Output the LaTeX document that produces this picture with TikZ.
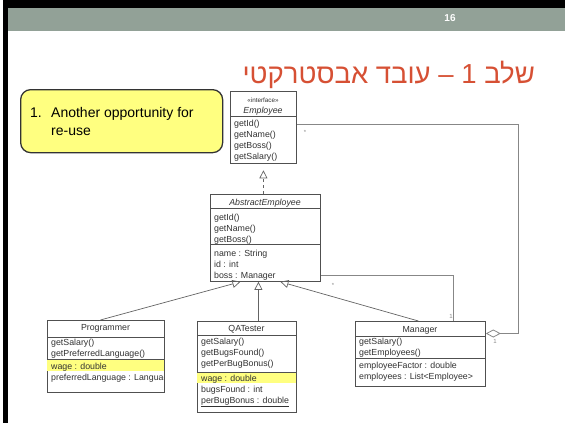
\documentclass[tikz,border=0pt]{standalone}
\usepackage{fontspec}
\setmainfont{Liberation Sans}
\newfontfamily\hebfont[Script=Hebrew]{Liberation Sans}
\TeXXeTstate=1
\usetikzlibrary{arrows.meta,calc}

\definecolor{bargray}{RGB}{146,161,151}
\definecolor{titlered}{RGB}{214,80,52}
\definecolor{notefill}{RGB}{255,255,128}
\definecolor{hilite}{RGB}{255,255,128}
\definecolor{boxline}{RGB}{80,80,80}
\definecolor{umlink}{RGB}{50,50,50}
\definecolor{linkgray}{RGB}{100,100,100}
\definecolor{assocgray}{RGB}{135,135,135}

\newcommand{\umlfont}{\fontsize{8.8}{11}\selectfont}

\begin{document}
\begin{tikzpicture}[x=1pt, y=-1pt,
  umlbox/.style={draw=boxline, fill=white, anchor=north west, inner sep=0pt, line width=0.8pt},
  compline/.style={draw=boxline, line width=0.8pt},
  umltext/.style={anchor=base west, align=left, inner sep=0pt, text=umlink, font=\umlfont},
  umltitle/.style={anchor=base, inner sep=0pt, text=umlink, font=\umlfont},
  inherit/.style={draw=linkgray, line width=0.7pt, -{Triangle[open, length=8pt, width=8pt]}},
  realize/.style={inherit, dashed, shorten >=7pt},
  assoc/.style={draw=assocgray, line width=0.8pt},
  aggr/.style={assoc, -{Diamond[open, length=15pt, width=8pt]}},
  mult/.style={font=\fontsize{6}{6}\selectfont, text=assocgray, inner sep=0pt}
]
\useasboundingbox (0,0) rectangle (565,423);

% slide frame
\fill[black] (3,0) rectangle (565,8);
\fill[black] (3,0) rectangle (8,423);
\fill[bargray] (8,8) rectangle (565,31);
\node[font=\bfseries\fontsize{10}{10}\selectfont, text=white] (pagenum) at (450,18.5) {16};

% title
\node[anchor=base east, inner sep=0pt, text=titlered, font=\fontsize{27.5}{32}\selectfont]
  (title) at (535,83) {\hebfont\beginR שלב 1 – עובד אבסטרקטי\endR};

% note (base anchor = last line)
\node[draw=black!80, line width=1.3pt, fill=notefill, rounded corners=10pt, anchor=north west,
  minimum width=202pt, minimum height=63pt, inner sep=0pt] (note) at (20,89) {};
\node[anchor=base west, inner sep=0pt, font=\fontsize{14}{18}\selectfont] (note-num) at (30,117) {1.};
\node[anchor=base west, align=left, inner sep=0pt, font=\fontsize{14}{18}\selectfont]
  (note-text) at (51,135) {Another opportunity for\\re-use};

% Employee interface
\begin{scope}[shift={(230,91)}]
  \node[umlbox, minimum width=66pt, minimum height=71.5pt] (emp) at (0,0) {};
  \draw[compline] (0,25) -- (66,25);
  \node[umltitle, font=\fontsize{6.3}{7}\selectfont] (emp-stereo) at (33,11.5) {«interface»};
  \node[umltitle, font=\umlfont\itshape] (emp-name) at (33,22) {Employee};
  \node[umltext] (emp-ops) at (4,68) {getId()\\getName()\\getBoss()\\getSalary()};
\end{scope}

% AbstractEmployee
\begin{scope}[shift={(210,194)}]
  \node[umlbox, minimum width=110pt, minimum height=87pt] (abs) at (0,0) {};
  \draw[compline] (0,14.5) -- (110,14.5);
  \draw[compline] (0,50.5) -- (110,50.5);
  \node[umltitle, font=\umlfont\itshape] (abs-name) at (55,11.5) {AbstractEmployee};
  \node[umltext] (abs-ops) at (4,48) {getId()\\getName()\\getBoss()};
  \node[umltext] (abs-attr) at (4,84) {name : String\\id : int\\boss : Manager};
\end{scope}

% Programmer
\begin{scope}[shift={(47,320)}]
  \node[umlbox, minimum width=117pt, minimum height=72pt] (prog) at (0,0) {};
  \fill[hilite] (0.4,39.3) rectangle (116.6,51);
  \draw[compline] (0,17) -- (117,17);
  \draw[compline] (0,39.3) -- (117,39.3);
  \node[umltitle] (prog-name) at (58.5,10.5) {Programmer};
  \node[umltext] (prog-ops) at (4,36.5) {getSalary()\\getPreferredLanguage()};
  \begin{scope}
    \clip (0,0) rectangle (116.5,72);
    \node[umltext] (prog-attr) at (4,60) {wage : double\\preferredLanguage : Language};
  \end{scope}
\end{scope}

% QATester
\begin{scope}[shift={(197,321)}]
  \node[umlbox, minimum width=99pt, minimum height=91pt] (qa) at (0,0) {};
  \fill[hilite] (0.4,51.7) rectangle (98.6,62);
  \draw[compline] (0,14) -- (99,14);
  \draw[compline] (0,51.7) -- (99,51.7);
  \node[umltitle] (qa-name) at (49.5,10) {QATester};
  \node[umltext] (qa-ops) at (4,45.5) {getSalary()\\getBugsFound()\\getPerBugBonus()};
  \node[umltext] (qa-attr) at (4,82) {wage : double\\bugsFound : int\\\underline{perBugBonus : double}};
\end{scope}

% Manager
\begin{scope}[shift={(355,321)}]
  \node[umlbox, minimum width=130pt, minimum height=65pt] (mgr) at (0,0) {};
  \draw[compline] (0,15.5) -- (130,15.5);
  \draw[compline] (0,37.5) -- (130,37.5);
  \node[umltitle] (mgr-name) at (65,11) {Manager};
  \node[umltext] (mgr-ops) at (4,34.5) {getSalary()\\getEmployees()};
  \node[umltext] (mgr-attr) at (4,58) {employeeFactor : double\\employees : List<Employee>};
\end{scope}

% generalizations
\draw[realize] (abs.north -| emp.south) -- (emp.south);
\draw[inherit] ([xshift=-5.5pt]prog.north) -- ([xshift=-25pt]abs.south);
\draw[inherit] ([xshift=-7pt]abs.south |- qa.north) -- ([xshift=-7pt]abs.south);
\draw[inherit] ([xshift=-2pt]mgr.north) -- ([xshift=15pt]abs.south);

% associations
\draw[assoc] ([yshift=6.5pt]abs.south east) -| ([xshift=33pt]mgr.north);
\node[mult] (boss-many) at (333,285) {*};
\node[mult] (boss-one) at (451,316) {1};
\coordinate (aggbend) at (518,124.5);
\draw[aggr] ([yshift=-33.5pt]emp.north east) -- (aggbend) |- ([yshift=-12.5pt]mgr.north east);
\node[mult] (emps-many) at (305,132) {*};
\node[mult] (emps-one) at (495,341) {1};
\end{tikzpicture}
\end{document}
